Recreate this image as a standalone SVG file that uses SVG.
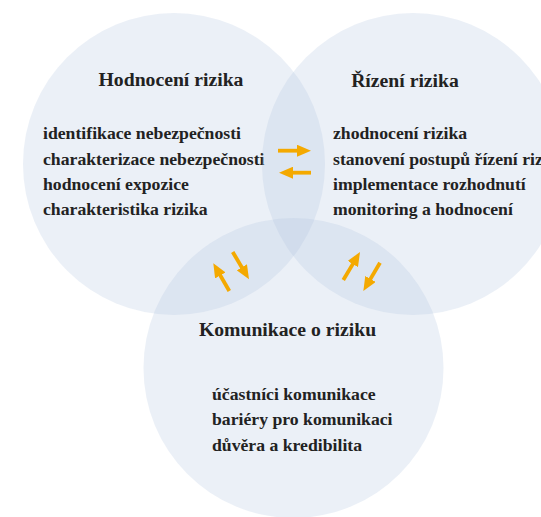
<svg xmlns="http://www.w3.org/2000/svg" width="541" height="517" viewBox="0 0 541 517">
<style>
.c{fill:#b0c4de;fill-opacity:0.25;stroke:none}
text{font-family:'Liberation Serif','DejaVu Serif',serif;font-weight:700;fill:#222222}
.h{font-size:19.7px;text-anchor:middle}
.b{font-size:17.7px}
.a{stroke:#f4a900;stroke-width:3.8;fill:none;marker-end:url(#ah)}
</style>
<defs>
<marker id="ah" markerUnits="userSpaceOnUse" markerWidth="14" markerHeight="12" refX="6" refY="6" orient="auto">
<path d="M0,0 L14,6 L0,12 z" fill="#f4a900"/>
</marker>
</defs>
<rect width="541" height="517" fill="#ffffff"/>
<g id="node-hodnoceni" font-family="Liberation Serif, serif">
<circle class="c" cx="174" cy="164" r="151"/>
<text class="h" x="171" y="86">Hodnocení rizika</text>
<text class="b" x="43" y="139">identifikace nebezpečnosti</text>
<text class="b" x="43" y="164.5">charakterizace nebezpečnosti</text>
<text class="b" x="43" y="190">hodnocení expozice</text>
<text class="b" x="43" y="215">charakteristika rizika</text>
</g>
<g id="node-rizeni" font-family="Liberation Serif, serif">
<circle class="c" cx="413" cy="164" r="151"/>
<text class="h" x="405" y="86.5">Řízení rizika</text>
<text class="b" x="333" y="139">zhodnocení rizika</text>
<text class="b" x="333" y="164.5">stanovení postupů řízení rizika</text>
<text class="b" x="333" y="190">implementace rozhodnutí</text>
<text class="b" x="333" y="215">monitoring a hodnocení</text>
</g>
<g id="node-komunikace" font-family="Liberation Serif, serif">
<circle class="c" cx="293.5" cy="368" r="150"/>
<text class="h" x="287.5" y="336">Komunikace o riziku</text>
<text class="b" x="212" y="399.5">účastníci komunikace</text>
<text class="b" x="212" y="425">bariéry pro komunikaci</text>
<text class="b" x="212" y="450.5">důvěra a kredibilita</text>
</g>
<g id="connectors">
<line class="a" x1="278" y1="150.7" x2="303" y2="150.7"/>
<line class="a" x1="311" y1="172.7" x2="287" y2="172.7"/>
<line class="a" x1="229.3" y1="291" x2="217.3" y2="270.2"/>
<line class="a" x1="232.7" y1="252" x2="244.9" y2="272.4"/>
<line class="a" x1="343.3" y1="280" x2="355.9" y2="258.9"/>
<line class="a" x1="380" y1="262.7" x2="367.4" y2="284.1"/>
</g>
</svg>
